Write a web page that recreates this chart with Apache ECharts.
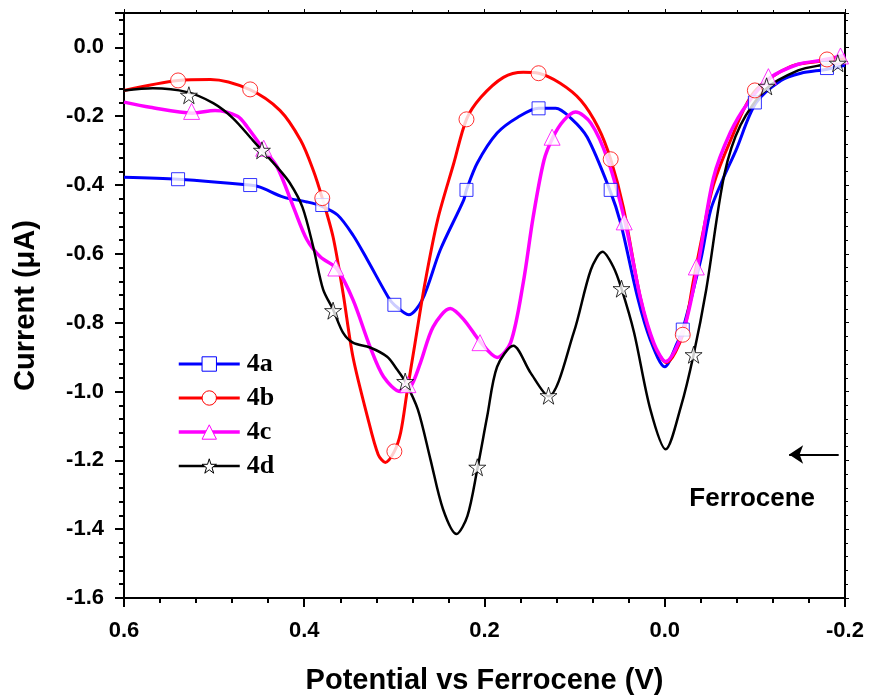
<!DOCTYPE html>
<html>
<head>
<meta charset="utf-8">
<script src="https://cdn.jsdelivr.net/npm/echarts@6/dist/echarts.min.js"></script>
<style>
  html, body { margin: 0; padding: 0; background: #fff; }
  #main { width: 873px; height: 697px; }
</style>
</head>
<body>
<div id="main"></div>
<script>
// potential (V) vs current (uA)
var curve4a = [
  [0.600,-0.377],[0.540,-0.383],[0.461,-0.400],[0.449,-0.406],[0.423,-0.435],[0.397,-0.449],
  [0.381,-0.461],[0.363,-0.487],[0.346,-0.545],[0.330,-0.617],[0.307,-0.725],[0.300,-0.748],
  [0.284,-0.777],[0.269,-0.733],[0.249,-0.588],[0.223,-0.443],[0.220,-0.414],[0.208,-0.336],
  [0.186,-0.249],[0.163,-0.203],[0.140,-0.177],[0.121,-0.177],[0.104,-0.206],[0.086,-0.261],
  [0.061,-0.414],[0.049,-0.510],[0.030,-0.728],[0.016,-0.850],[0.000,-0.928],[-0.014,-0.858],
  [-0.020,-0.820],[-0.040,-0.617],[-0.051,-0.472],[-0.064,-0.386],[-0.079,-0.299],[-0.101,-0.162],
  [-0.129,-0.096],[-0.151,-0.075],[-0.179,-0.064],[-0.200,-0.052]
];
var curve4b = [
  [0.600,-0.125],[0.540,-0.096],[0.504,-0.093],[0.461,-0.122],[0.427,-0.183],[0.404,-0.270],
  [0.390,-0.357],[0.380,-0.438],[0.368,-0.551],[0.357,-0.713],[0.346,-0.899],[0.330,-1.072],
  [0.318,-1.183],[0.310,-1.206],[0.300,-1.174],[0.293,-1.119],[0.286,-1.003],[0.277,-0.858],
  [0.266,-0.684],[0.252,-0.501],[0.234,-0.336],[0.220,-0.209],[0.204,-0.145],[0.179,-0.087],
  [0.157,-0.072],[0.140,-0.075],[0.116,-0.104],[0.093,-0.154],[0.074,-0.232],[0.060,-0.325],
  [0.046,-0.464],[0.027,-0.728],[0.012,-0.864],[-0.002,-0.916],[-0.020,-0.835],[-0.032,-0.675],
  [-0.043,-0.530],[-0.054,-0.400],[-0.073,-0.270],[-0.099,-0.130],[-0.140,-0.055],[-0.180,-0.038],
  [-0.200,-0.032]
];
var curve4c = [
  [0.600,-0.159],[0.571,-0.174],[0.524,-0.191],[0.499,-0.183],[0.474,-0.200],[0.463,-0.232],
  [0.446,-0.293],[0.430,-0.348],[0.412,-0.464],[0.397,-0.559],[0.382,-0.609],[0.364,-0.643],
  [0.346,-0.733],[0.327,-0.870],[0.312,-0.957],[0.293,-1.000],[0.282,-0.986],[0.271,-0.916],
  [0.257,-0.812],[0.238,-0.759],[0.223,-0.791],[0.204,-0.858],[0.186,-0.901],[0.171,-0.858],
  [0.157,-0.684],[0.146,-0.493],[0.134,-0.328],[0.124,-0.261],[0.112,-0.212],[0.099,-0.188],
  [0.082,-0.220],[0.063,-0.328],[0.044,-0.507],[0.027,-0.728],[0.012,-0.860],[-0.001,-0.913],
  [-0.021,-0.820],[-0.037,-0.630],[-0.054,-0.380],[-0.073,-0.246],[-0.092,-0.162],[-0.116,-0.090],
  [-0.148,-0.049],[-0.173,-0.038],[-0.200,-0.023]
];
var curve4d = [
  [0.600,-0.125],[0.568,-0.119],[0.530,-0.130],[0.501,-0.162],[0.479,-0.206],[0.457,-0.270],
  [0.447,-0.299],[0.430,-0.348],[0.416,-0.394],[0.402,-0.464],[0.390,-0.580],[0.379,-0.704],
  [0.368,-0.762],[0.357,-0.829],[0.346,-0.858],[0.327,-0.872],[0.308,-0.899],[0.297,-0.936],
  [0.288,-0.971],[0.274,-1.052],[0.260,-1.197],[0.246,-1.342],[0.231,-1.414],[0.219,-1.362],
  [0.208,-1.226],[0.197,-1.072],[0.186,-0.928],[0.168,-0.867],[0.149,-0.945],[0.129,-1.014],
  [0.101,-0.829],[0.082,-0.646],[0.069,-0.594],[0.057,-0.638],[0.048,-0.701],[0.034,-0.829],
  [0.016,-1.052],[-0.001,-1.168],[-0.018,-1.043],[-0.032,-0.893],[-0.046,-0.704],[-0.066,-0.371],
  [-0.084,-0.226],[-0.113,-0.119],[-0.148,-0.067],[-0.173,-0.052],[-0.200,-0.043]
];

// marker positions
var marks4a = [[0.54,-0.383],[0.46,-0.400],[0.38,-0.458],[0.30,-0.748],[0.22,-0.414],[0.14,-0.177],[0.06,-0.414],[-0.02,-0.820],[-0.10,-0.160],[-0.18,-0.060]];
var marks4b = [[0.54,-0.096],[0.46,-0.122],[0.38,-0.438],[0.30,-1.174],[0.22,-0.209],[0.14,-0.075],[0.06,-0.325],[-0.02,-0.835],[-0.10,-0.125],[-0.18,-0.035]];
var marks4c = [[0.525,-0.186],[0.445,-0.293],[0.365,-0.641],[0.285,-0.980],[0.205,-0.858],[0.125,-0.261],[0.045,-0.507],[-0.035,-0.638],[-0.115,-0.085],[-0.195,-0.025]];
var marks4d = [[0.528,-0.139],[0.447,-0.299],[0.368,-0.765],[0.288,-0.971],[0.208,-1.220],[0.129,-1.012],[0.048,-0.701],[-0.032,-0.893],[-0.113,-0.113],[-0.192,-0.046]];

var names = ['4a', '4b', '4c', '4d'];
var colors = ['#0000ff', '#ff0000', '#ff00ff', '#000000'];
var STAR = 'path://M50,2 L61.2,36.6 L97.6,36.6 L68.2,58 L79.4,92.6 L50,71.2 L20.6,92.6 L31.8,58 L2.4,36.6 L38.8,36.6 Z';
var symbols = ['rect', 'circle', 'triangle', STAR];
var symSizes = [13, 15, 16, 17];
var widths = [3, 3, 3.5, 2.5];
var curves = [curve4a, curve4b, curve4c, curve4d];
var marks = [marks4a, marks4b, marks4c, marks4d];

// annotation
var arrowFrom = [-0.193, -1.183];
var arrowTo = [-0.138, -1.183];
var noteAt = [-0.097, -1.313];

var labelFont = { fontFamily: 'Liberation Sans, Arial', fontWeight: 'bold', fontSize: 22, color: '#000' };
var nameFont = { fontFamily: 'Liberation Sans, Arial', fontWeight: 'bold', fontSize: 29, color: '#000' };
var fmt = function (v) { return v.toFixed(1); };

function extend(a, b) {
    for (var k in b) { a[k] = b[k]; }
    return a;
}

var chart = echarts.init(document.getElementById('main'));

var series = [];
for (var i = 0; i < 4; i++) {
    series.push({
        name: names[i],
        type: 'line',
        data: curves[i],
        smooth: 0.3,
        symbol: symbols[i],
        symbolSize: symSizes[i],
        showSymbol: false,
        lineStyle: { color: colors[i], width: widths[i] },
        itemStyle: { color: '#fff', borderColor: colors[i], borderWidth: 1 },
        emphasis: { disabled: true },
        z: 2 + i
    });
}
for (var j = 0; j < 4; j++) {
    series.push({
        name: names[j],
        type: 'scatter',
        data: marks[j],
        symbol: symbols[j],
        symbolSize: symSizes[j],
        itemStyle: { color: '#fff', borderColor: colors[j], borderWidth: 1 },
        emphasis: { disabled: true },
        z: 10
    });
}
// arrow pointing at the ferrocene peak
series[3].markLine = {
    silent: true,
    symbol: ['none', 'arrow'],
    symbolSize: 14,
    label: { show: false },
    lineStyle: { color: '#000', width: 2, type: 'solid' },
    data: [[{ coord: arrowFrom }, { coord: arrowTo }]]
};

var legendData = names.map(function (n, k) {
    return {
        name: n,
        itemStyle: { color: '#fff', borderColor: colors[k], borderWidth: 1 },
        lineStyle: { color: colors[k], width: widths[k] }
    };
});

chart.setOption({
    animation: false,
    backgroundColor: '#fff',
    grid: { left: 124, right: 28, top: 13, bottom: 99, outerBoundsMode: 'none', containLabel: false },
    legend: {
        orient: 'vertical',
        left: 172,
        top: 346,
        itemWidth: 61,
        itemHeight: 18,
        itemGap: 8,
        selectedMode: false,
        data: legendData,
        textStyle: {
            fontFamily: 'Liberation Serif, Times New Roman',
            fontWeight: 'bold',
            fontSize: 26,
            lineHeight: 26,
            color: '#000',
            padding: [0, 0, 0, 2]
        }
    },
    xAxis: [{
        type: 'value',
        position: 'bottom',
        inverse: true,
        min: -0.2,
        max: 0.6,
        interval: 0.2,
        name: 'Potential vs Ferrocene (V)',
        nameLocation: 'middle',
        nameGap: 68,
        nameTextStyle: nameFont,
        axisLine: { show: true, onZero: false, lineStyle: { color: '#000', width: 2 } },
        axisTick: { show: true, inside: false, length: 9, lineStyle: { color: '#000', width: 2 } },
        minorTick: { show: true, splitNumber: 5, length: 5, lineStyle: { color: '#000', width: 2 } },
        splitLine: { show: false },
        axisLabel: extend({ margin: 22, formatter: fmt }, labelFont)
    }, {
        type: 'value',
        position: 'top',
        inverse: true,
        min: -0.2,
        max: 0.6,
        interval: 0.2,
        axisLine: { show: true, onZero: false, lineStyle: { color: '#000', width: 2 } },
        axisTick: { show: true, inside: false, length: 4, lineStyle: { color: '#000', width: 1 } },
        minorTick: { show: true, splitNumber: 5, length: 3, lineStyle: { color: '#000', width: 1 } },
        splitLine: { show: false },
        axisLabel: { show: false }
    }],
    yAxis: [{
        type: 'value',
        position: 'left',
        min: -1.6,
        max: 0.1,
        interval: 0.2,
        name: 'Current (\u03BCA)',
        nameLocation: 'middle',
        nameGap: 84,
        nameTextStyle: nameFont,
        axisLine: { show: true, onZero: false, lineStyle: { color: '#000', width: 2 } },
        axisTick: { show: true, inside: false, length: 9, lineStyle: { color: '#000', width: 2 } },
        minorTick: { show: true, splitNumber: 5, length: 5, lineStyle: { color: '#000', width: 2 } },
        splitLine: { show: false },
        axisLabel: extend({ margin: 20, formatter: fmt, showMaxLabel: false }, labelFont)
    }, {
        type: 'value',
        position: 'right',
        min: -1.6,
        max: 0.1,
        interval: 0.2,
        axisLine: { show: true, onZero: false, lineStyle: { color: '#000', width: 2 } },
        axisTick: { show: true, inside: false, length: 4, lineStyle: { color: '#000', width: 1 } },
        minorTick: { show: true, splitNumber: 5, length: 3, lineStyle: { color: '#000', width: 1 } },
        splitLine: { show: false },
        axisLabel: { show: false }
    }],
    series: series
});

var p = chart.convertToPixel({ gridIndex: 0 }, noteAt);
chart.setOption({
    graphic: [{
        type: 'text',
        x: p[0],
        y: p[1],
        style: {
            text: 'Ferrocene',
            fontFamily: 'Liberation Sans, Arial',
            fontWeight: 'bold',
            fontSize: 26,
            fill: '#000',
            align: 'center',
            verticalAlign: 'middle'
        }
    }]
});
</script>
</body>
</html>
